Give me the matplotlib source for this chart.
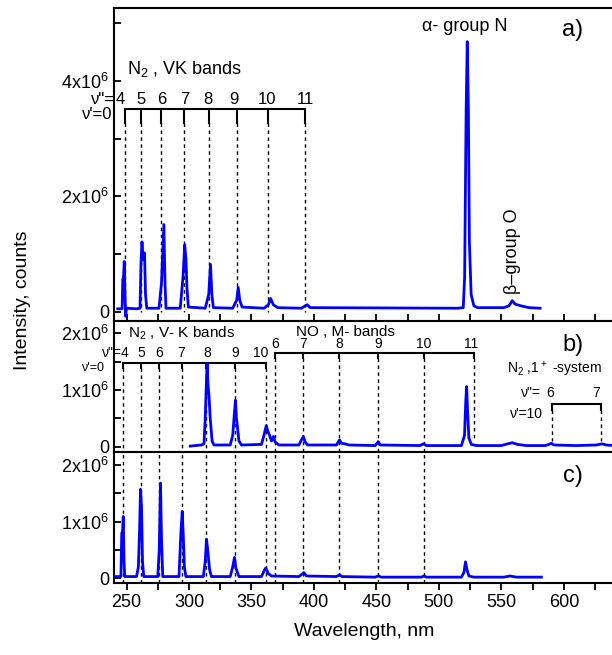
import numpy as np
import matplotlib.pyplot as plt
from matplotlib.ticker import MultipleLocator

plt.rcParams['font.family'] = ['Liberation Sans', 'DejaVu Sans']
plt.rcParams['mathtext.default'] = 'regular'

# spectra, wavelength in nm, intensity in 10^6 counts
wl_a = [243, 246.5, 247.0, 247.6, 248.2, 248.8, 249.3, 250.0, 258, 260.8, 261.6, 262.4,
        263.3, 264.4, 265.2, 266.2, 276, 278.0, 279.9, 280.8, 281.6, 293, 295.2, 296.6,
        297.6, 298.4, 299.5, 313, 315.8, 317.2, 318.3, 319.5, 335, 338.2, 339.4, 340.6,
        342.5, 360, 363.5, 365.3, 367.5, 371, 390, 394.6, 397, 515, 519.5, 520.6, 521.8,
        522.7, 523.6, 524.4, 525.8, 528, 531, 552, 556, 558.7, 561, 566, 572, 581]
int_a = [0.05, 0.05, 0.55, 0.60, 0.87, 0.30, -0.08, 0.06, 0.05, 0.06, 0.85, 1.21,
         0.90, 1.02, 0.30, 0.06, 0.06, 0.50, 1.51, 0.50, 0.06, 0.06, 0.60, 1.16,
         0.90, 0.40, 0.08, 0.06, 0.30, 0.82, 0.30, 0.07, 0.06, 0.20, 0.42, 0.20,
         0.08, 0.06, 0.12, 0.23, 0.12, 0.07, 0.06, 0.12, 0.07, 0.06, 0.07, 0.60, 3.50,
         4.68, 3.50, 1.20, 0.30, 0.10, 0.07, 0.07, 0.10, 0.19, 0.13, 0.10, 0.07, 0.06]

wl_b = [301, 305, 310, 312, 313, 314, 314.6, 315.2, 316, 317, 318.5, 320, 333, 335, 336.2,
        337.2, 338, 339, 340, 342, 358, 360, 361.8, 363, 364.5, 366, 367.5, 369, 372, 388,
        390.5, 391.5, 393, 395, 418, 420.5, 422, 425, 428, 449, 451.5, 453, 485, 487.5, 490,
        518, 520.5, 521.5, 522.2, 523, 524, 526, 530, 550, 555, 558.7, 563, 570, 585, 588,
        590, 592, 610, 626, 630.5, 634, 640]
int_b = [0.01, 0.02, 0.03, 0.05, 0.50, 1.20, 1.47, 1.10, 0.90, 0.50, 0.10, 0.03, 0.03, 0.20, 0.55,
         0.82, 0.50, 0.30, 0.10, 0.03, 0.04, 0.20, 0.37, 0.28, 0.20, 0.10, 0.18, 0.08, 0.03, 0.03,
         0.14, 0.18, 0.08, 0.03, 0.03, 0.12, 0.06, 0.05, 0.03, 0.02, 0.09, 0.03, 0.02, 0.05, 0.02,
         0.02, 0.20, 0.80, 1.06, 0.60, 0.15, 0.04, 0.02, 0.02, 0.05, 0.07, 0.04, 0.02, 0.02, 0.04,
         0.06, 0.03, 0.02, 0.03, 0.05, 0.03, 0.02]

wl_c = [241, 245.5, 246.2, 246.8, 247.4, 248.0, 248.6, 258, 259.5, 260.5, 261.2, 262, 262.8,
        263.8, 275, 276.2, 277.2, 278, 279, 292, 293.5, 294.6, 295.4, 296.3, 297.5, 311.5, 313,
        314, 315, 316.5, 318, 333, 335, 336.4, 337.5, 338.5, 340, 358, 360.5, 361.5, 363.5, 366,
        388, 391.9, 394, 418, 420.7, 422.5, 449, 451.4, 454, 486, 488, 490, 518, 520, 521.3,
        522.5, 524, 528, 552, 557, 562, 582]
int_c = [0.03, 0.03, 0.80, 0.82, 1.09, 0.30, 0.03, 0.03, 0.20, 0.90, 1.57, 1.26, 0.30,
         0.03, 0.03, 0.50, 1.68, 0.70, 0.03, 0.03, 0.80, 1.18, 0.77, 0.20, 0.03, 0.03, 0.30,
         0.69, 0.50, 0.15, 0.03, 0.03, 0.20, 0.37, 0.18, 0.12, 0.03, 0.03, 0.15, 0.18, 0.08, 0.04,
         0.03, 0.10, 0.04, 0.03, 0.06, 0.03, 0.02, 0.04, 0.02, 0.02, 0.04, 0.02, 0.02, 0.10, 0.29,
         0.15, 0.04, 0.02, 0.02, 0.04, 0.02, 0.02]

# band positions
vk_a = [248.4, 261.6, 278.0, 296.0, 316.0, 338.5, 363.6, 393.0]
vk_a_lab = ['4', '5', '6', '7', '8', '9', '10', '11']
vk_a_labx = [245.2, 261.8, 278.6, 296.7, 315.4, 335.9, 362.6, 393.3]

vk_b = [247.4, 261.8, 276.4, 294.6, 314.0, 337.2, 361.8]
vk_b_lab = ['4', '5', '6', '7', '8', '9', '10']
vk_b_labx = [248.0, 262.0, 276.4, 294.0, 314.6, 337.2, 357.3]

no_b = [368.7, 391.4, 419.9, 451.1, 488.0, 528.2]
no_b_lab = ['6', '7', '8', '9', '10', '11']
no_b_labx = [368.7, 391.4, 419.9, 451.1, 488.0, 525.5]

fp_b = [590.2, 630.0]
fp_b_lab = ['6', '7']
fp_b_labx = [589.4, 626.2]

dash = (0, (2.5, 2.5))
blue = '#0000ff'

fig = plt.figure(figsize=(6.12, 6.55), dpi=100)
ax1 = fig.add_axes([0.1863, 0.5104, 0.8167, 0.4774])
ax2 = fig.add_axes([0.1863, 0.3104, 0.8167, 0.2000])
ax3 = fig.add_axes([0.1863, 0.1104, 0.8167, 0.2000])


def style(ax, ylim, major, minor, labels, xdir):
    ax.set_xlim(240, 640)
    ax.set_ylim(*ylim)
    ax.xaxis.set_major_locator(MultipleLocator(50))
    ax.xaxis.set_minor_locator(MultipleLocator(25))
    ax.set_yticks(major)
    ax.set_yticklabels(labels)
    ax.yaxis.set_minor_locator(MultipleLocator(minor))
    ax.tick_params(axis='y', which='both', direction='in', labelsize=13, width=1.3, length=5)
    ax.tick_params(axis='x', which='both', direction=xdir, length=5, width=1.3, labelsize=13)
    for s in ax.spines.values():
        s.set_linewidth(1.5)
    ax.spines['right'].set_visible(False)


style(ax1, (-0.156, 5.263), [0, 2, 4], 1, ['0', '2x10$^6$', '4x10$^6$'], 'in')
style(ax2, (-0.088, 2.222), [0, 1, 2], 0.5, ['0', '1x10$^6$', '2x10$^6$'], 'out')
style(ax3, (-0.078, 2.233), [0, 1, 2], 0.5, ['0', '1x10$^6$', '2x10$^6$'], 'out')
ax1.tick_params(labelbottom=False)
ax2.tick_params(labelbottom=False)

# panel a
ax1.plot(wl_a, int_a, color=blue, lw=2, zorder=3)
ax1.plot([vk_a[0], vk_a[-1]], [3.52, 3.52], color='k', lw=1.5)
for x in vk_a:
    ax1.plot([x, x], [3.52, 3.27], color='k', lw=1.5)
    ax1.plot([x, x], [3.27, 0], color='k', lw=1, ls=dash)
for x, t in zip(vk_a_labx, vk_a_lab):
    ax1.text(x, 3.68, t, ha='center', va='center', fontsize=12)
ax1.text(240.6, 3.68, 'ν"=', ha='right', va='center', fontsize=12)
ax1.text(239.0, 3.41, "ν'=0", ha='right', va='center', fontsize=12)
ax1.text(250, 4.2, 'N$_2$ , VK bands', ha='left', va='center', fontsize=13)
ax1.text(521, 4.95, 'α- group N', ha='center', va='center', fontsize=13)
ax1.text(558.7, 0.3, 'β–group O', ha='center', va='bottom', rotation=90, fontsize=13)
ax1.text(607, 4.88, 'a)', ha='center', va='center', fontsize=17)

# panel b
ax2.plot(wl_b, int_b, color=blue, lw=2, zorder=3)
ax2.plot([vk_b[0], vk_b[-1]], [1.48, 1.48], color='k', lw=1.5)
for x in vk_b:
    ax2.plot([x, x], [1.48, 1.38], color='k', lw=1.5)
    ax2.plot([x, x], [1.38, -0.1], color='k', lw=1, ls=dash)
for x, t in zip(vk_b_labx, vk_b_lab):
    ax2.text(x, 1.66, t, ha='center', va='center', fontsize=10)
ax2.text(246.0, 1.66, 'ν"=', ha='right', va='center', fontsize=10)
ax2.text(232.0, 1.39, "ν'=0", ha='right', va='center', fontsize=9)
ax2.text(251, 2.0, 'N$_2$ , V- K bands', ha='left', va='center', fontsize=11)

ax2.plot([no_b[0], no_b[-1]], [1.66, 1.66], color='k', lw=1.5)
for x in no_b:
    ax2.plot([x, x], [1.66, 1.56], color='k', lw=1.5)
    ax2.plot([x, x], [1.56, -0.1 if x < 520 else 0.1], color='k', lw=1, ls=dash)
for x, t in zip(no_b_labx, no_b_lab):
    ax2.text(x, 1.81, t, ha='center', va='center', fontsize=10)
ax2.text(386, 2.03, 'NO , M- bands', ha='left', va='center', fontsize=11)

ax2.plot([fp_b[0], fp_b[-1]], [0.75, 0.75], color='k', lw=1.5)
for x in fp_b:
    ax2.plot([x, x], [0.75, 0.65], color='k', lw=1.5)
    ax2.plot([x, x], [0.65, 0.1], color='k', lw=1, ls=dash)
for x, t in zip(fp_b_labx, fp_b_lab):
    ax2.text(x, 0.95, t, ha='center', va='center', fontsize=10)
ax2.text(581.4, 0.95, 'ν"=', ha='right', va='center', fontsize=10)
ax2.text(583.0, 0.57, "ν'=10", ha='right', va='center', fontsize=10)
ax2.text(554.5, 1.37, 'N$_2$ ,1$^+$ -system', ha='left', va='center', fontsize=10)
ax2.text(607, 1.8, 'b)', ha='center', va='center', fontsize=17)

# panel c
ax3.plot(wl_c, int_c, color=blue, lw=2, zorder=3)
for x in vk_b + no_b[:-1]:
    ax3.axvline(x, color='k', lw=1, ls=dash)
ax3.text(607, 1.8, 'c)', ha='center', va='center', fontsize=17)
ax3.set_xlabel('Wavelength, nm', fontsize=14, labelpad=8)

fig.text(0.036, 0.542, 'Intensity, counts', rotation=90, ha='center', va='center', fontsize=14)

fig.savefig('out.png', dpi=100)
